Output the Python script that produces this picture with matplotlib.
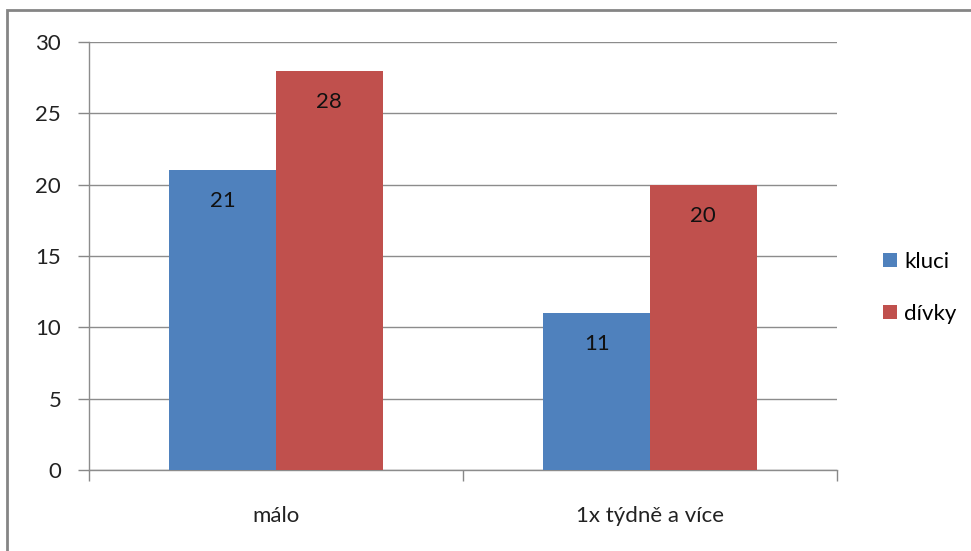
import numpy as np
import matplotlib.pyplot as plt
from matplotlib.patches import Rectangle

plt.rcParams['font.family'] = ['Lato', 'DejaVu Sans']

kategorie = ["málo", "1x týdně a více"]
kluci = [21, 11]
divky = [28, 20]
serie = ["kluci", "dívky"]
barvy = ["#4F81BD", "#C0504D"]

fs = 16

fig = plt.figure(figsize=(9.71, 5.51), dpi=100)
fig.patch.set_facecolor("white")
ax = fig.add_axes([89 / 971, 1 - 470 / 551, (837 - 89) / 971, (470 - 42) / 551])

x = np.arange(len(kategorie))
w = 0.285
b1 = ax.bar(x - w / 2, kluci, w, color=barvy[0], label=serie[0], zorder=3)
b2 = ax.bar(x + w / 2, divky, w, color=barvy[1], label=serie[1], zorder=3)

for bars in (b1, b2):
    for r in bars:
        v = r.get_height()
        ax.annotate(f"{v:g}", (r.get_x() + r.get_width() / 2, v),
                    xytext=(0, -31), textcoords="offset pixels",
                    ha="center", va="center", fontsize=fs, color="#111111", zorder=4)

ax.set_xlim(-0.5, 1.5)
ax.set_ylim(0, 30)
ax.set_yticks(range(0, 31, 5))
ax.set_xticks([-0.5, 0.5, 1.5], minor=False)
ax.set_xticklabels([])
ax.set_xticks(x, minor=True)
ax.set_xticklabels(kategorie, minor=True)
ax.tick_params(axis="x", which="minor", length=0, pad=26, labelsize=fs, labelcolor="#222222")
ax.tick_params(axis="x", which="major", length=8, color="#888888", width=1)
ax.tick_params(axis="y", length=8, color="#888888", width=1, pad=12, labelsize=fs, labelcolor="#222222")

ax.yaxis.grid(True, color="#8c8c8c", linewidth=1, zorder=0)
ax.set_axisbelow(True)
for s in ("top", "right"):
    ax.spines[s].set_visible(False)
for s in ("left", "bottom"):
    ax.spines[s].set_color("#8c8c8c")
    ax.spines[s].set_linewidth(1)

ax.legend(loc="center left", bbox_to_anchor=(1.035, 0.425), frameon=False,
          fontsize=fs, handlelength=0.6, handleheight=0.6, handletextpad=0.35,
          labelspacing=1.45)

# ramecek kolem grafu
fig.patches.append(Rectangle((7 / 971, -0.1), 1.2, 1 - 10 / 551 + 0.1,
                             transform=fig.transFigure, fill=False,
                             edgecolor="#858585", linewidth=2, clip_on=False))

fig.savefig("out.png", dpi=100)
